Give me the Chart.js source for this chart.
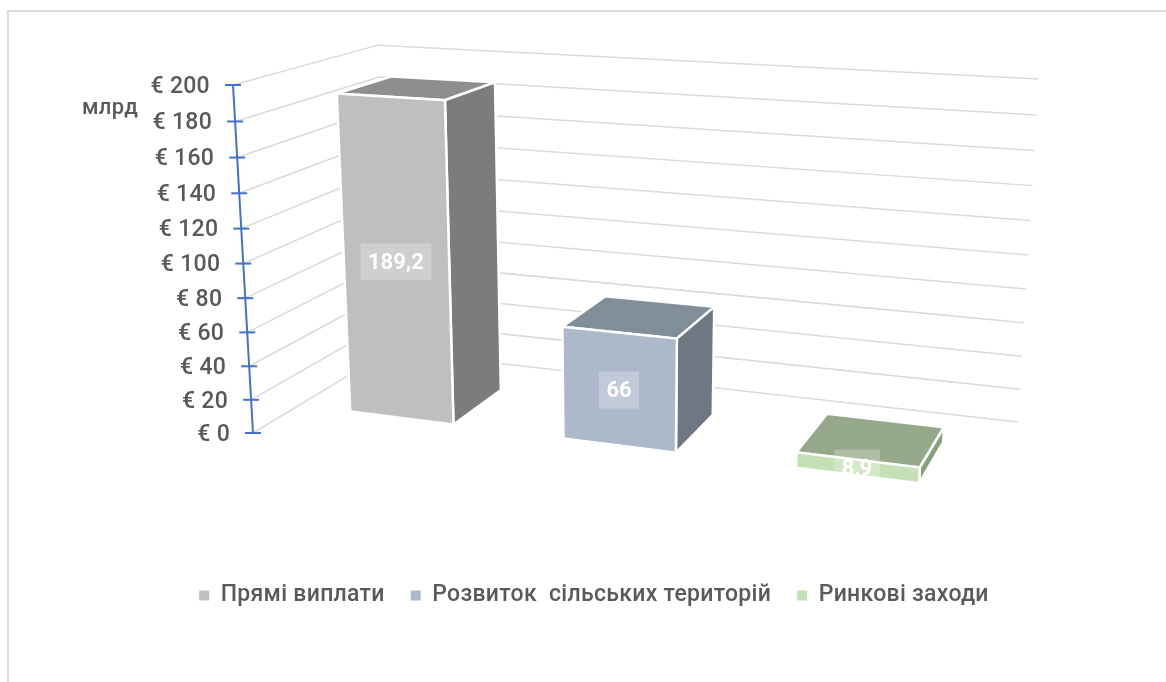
<!DOCTYPE html>
<html lang="uk">
<head>
<meta charset="utf-8">
<title>Chart</title>
<script src="https://cdn.jsdelivr.net/npm/chart.js@4"></script>
<style>
  html, body { margin: 0; height: 100%; background: #fff; overflow: hidden; }
  #frame { position: absolute; left: 7px; top: 10px; right: 0; bottom: 0; border: solid #d9d9d9; border-width: 2px 0 0 2px; }
  #wrap { position: absolute; left: 0; top: 0; width: 1166px; height: 682px; }
</style>
</head>
<body>
<div id="frame"></div>
<div id="wrap"><canvas id="chart" width="1166" height="682"></canvas></div>
<script>
const categories = ["2021-2027"];
const seriesNames = ["Прямі виплати", "Розвиток  сільських територій", "Ринкові заходи"];
const seriesValues = [189.2, 66, 8.9];
const yTickStep = 20;
const yMax = 200;
const yTitle = "млрд";

const frontColors = ["#bfbfbf", "#adb9ca", "#c5e0b4"];
const topColors = ["#8e8e8e", "#828d9a", "#95a98a"];
const sideColors = ["#7c7c7c", "#6f7785", "#86a07a"];

const FONT = "Roboto";
const TEXT = "#595959";

// perspective of the box: image of the origin and of the three unit axes
const view = {
  o: [253, 433, 1],
  u: [588.6, 26.8, -0.129],
  v: [-31.91, -352.34, -0.0511],
  d: [192.2, -31.3, 0.1445]
};
const barDepth = [0.31, 0.71];

function project(u, v, d) {
  const p = [0, 1, 2].map(i => view.o[i] + u * view.u[i] + v * view.v[i] + d * view.d[i]);
  return [p[0] / p[2], p[1] / p[2]];
}

function face(ctx, points, fill) {
  ctx.beginPath();
  points.forEach((p, i) => i ? ctx.lineTo(p[0], p[1]) : ctx.moveTo(p[0], p[1]));
  ctx.closePath();
  ctx.fillStyle = fill;
  ctx.fill();
  ctx.strokeStyle = "#fff";
  ctx.lineWidth = 2.5;
  ctx.stroke();
}

const box3d = {
  id: "box3d",
  beforeLayout(chart) { chart.ctx.letterSpacing = "0.3px"; },
  // walls and axis sit behind the bars
  beforeDatasetsDraw(chart) {
    const ctx = chart.ctx, scale = chart.scales.y, area = chart.chartArea;
    const vOf = val => (area.bottom - scale.getPixelForValue(val)) / area.height;
    ctx.save();
    ctx.letterSpacing = "0.3px";
    ctx.strokeStyle = "#d9d9d9";
    ctx.lineWidth = 1.5;
    scale.ticks.forEach(t => {
      const v = vOf(t.value);
      const a = project(0, v, 0), b = project(0, v, 1), c = project(1, v, 1);
      ctx.beginPath();
      ctx.moveTo(a[0], a[1]);
      ctx.lineTo(b[0], b[1]);
      ctx.lineTo(c[0], c[1]);
      ctx.stroke();
    });
    ctx.strokeStyle = "#4472c4";
    ctx.lineWidth = 2;
    const a0 = project(0, 0, 0), a1 = project(0, 1, 0);
    ctx.beginPath();
    ctx.moveTo(a0[0], a0[1]);
    ctx.lineTo(a1[0], a1[1]);
    ctx.stroke();
    ctx.font = "500 23px " + FONT;
    ctx.fillStyle = TEXT;
    ctx.textAlign = "right";
    ctx.textBaseline = "middle";
    scale.ticks.forEach(t => {
      const p = project(0, vOf(t.value), 0);
      ctx.beginPath();
      ctx.moveTo(p[0] - 8, p[1]);
      ctx.lineTo(p[0] + 8, p[1]);
      ctx.stroke();
      ctx.fillText(t.label, p[0] - 23, p[1] + 2);
    });
    ctx.font = "500 22px " + FONT;
    ctx.textAlign = "left";
    ctx.fillText(yTitle, 82, 108);
    ctx.restore();
  },
  // swap the flat rectangle for the three visible faces
  beforeDatasetDraw(chart, args) {
    const ctx = chart.ctx, area = chart.chartArea, i = args.index;
    const bar = args.meta.data[0];
    const uL = (bar.x - bar.width / 2 - area.left) / area.width;
    const uR = (bar.x + bar.width / 2 - area.left) / area.width;
    const vTop = (area.bottom - bar.y) / area.height;
    const vBase = (area.bottom - bar.base) / area.height;
    const [d0, d1] = barDepth;
    ctx.save();
    face(ctx, [project(uL, vTop, d0), project(uR, vTop, d0), project(uR, vTop, d1), project(uL, vTop, d1)], topColors[i]);
    face(ctx, [project(uR, vBase, d0), project(uR, vTop, d0), project(uR, vTop, d1), project(uR, vBase, d1)], sideColors[i]);
    face(ctx, [project(uL, vBase, d0), project(uR, vBase, d0), project(uR, vTop, d0), project(uL, vTop, d0)], bar.options.backgroundColor);
    ctx.restore();
    return false;
  },
  afterDatasetsDraw(chart) {
    const ctx = chart.ctx, area = chart.chartArea;
    ctx.save();
    ctx.letterSpacing = "0px";
    ctx.font = "bold 22px " + FONT;
    ctx.textAlign = "center";
    ctx.textBaseline = "middle";
    chart.data.datasets.forEach((ds, i) => {
      const bar = chart.getDatasetMeta(i).data[0];
      const u = (bar.x - area.left) / area.width;
      const v = (area.bottom - (bar.y + bar.base) / 2) / area.height;
      const p = project(u, v, barDepth[0]);
      const text = String(ds.data[0]).replace(".", ",");
      const w = ctx.measureText(text).width + 15;
      ctx.fillStyle = "rgba(255,255,255,0.25)";
      ctx.fillRect(p[0] - w / 2, p[1] - 18, w, 37);
      ctx.fillStyle = "#fff";
      ctx.fillText(text, p[0], p[1] + 2);
    });
    ctx.restore();
  }
};

new Chart(document.getElementById("chart"), {
  type: "bar",
  data: {
    labels: categories,
    datasets: seriesNames.map((name, i) => ({
      label: name,
      data: [seriesValues[i]],
      backgroundColor: frontColors[i],
      categoryPercentage: 1,
      barPercentage: 0.495
    }))
  },
  options: {
    responsive: false,
    animation: false,
    devicePixelRatio: 1,
    layout: { padding: { left: 22, right: 0, top: 40, bottom: 65 } },
    scales: {
      x: { display: false },
      y: {
        display: false,
        min: 0,
        max: yMax,
        ticks: { stepSize: yTickStep, callback: v => "€ " + v }
      }
    },
    plugins: {
      tooltip: { enabled: false },
      legend: {
        position: "bottom",
        labels: { color: TEXT, font: { family: FONT, size: 23, weight: "500" }, boxWidth: 10, boxHeight: 10, padding: 26 }
      }
    }
  },
  plugins: [box3d]
});
</script>
</body>
</html>
